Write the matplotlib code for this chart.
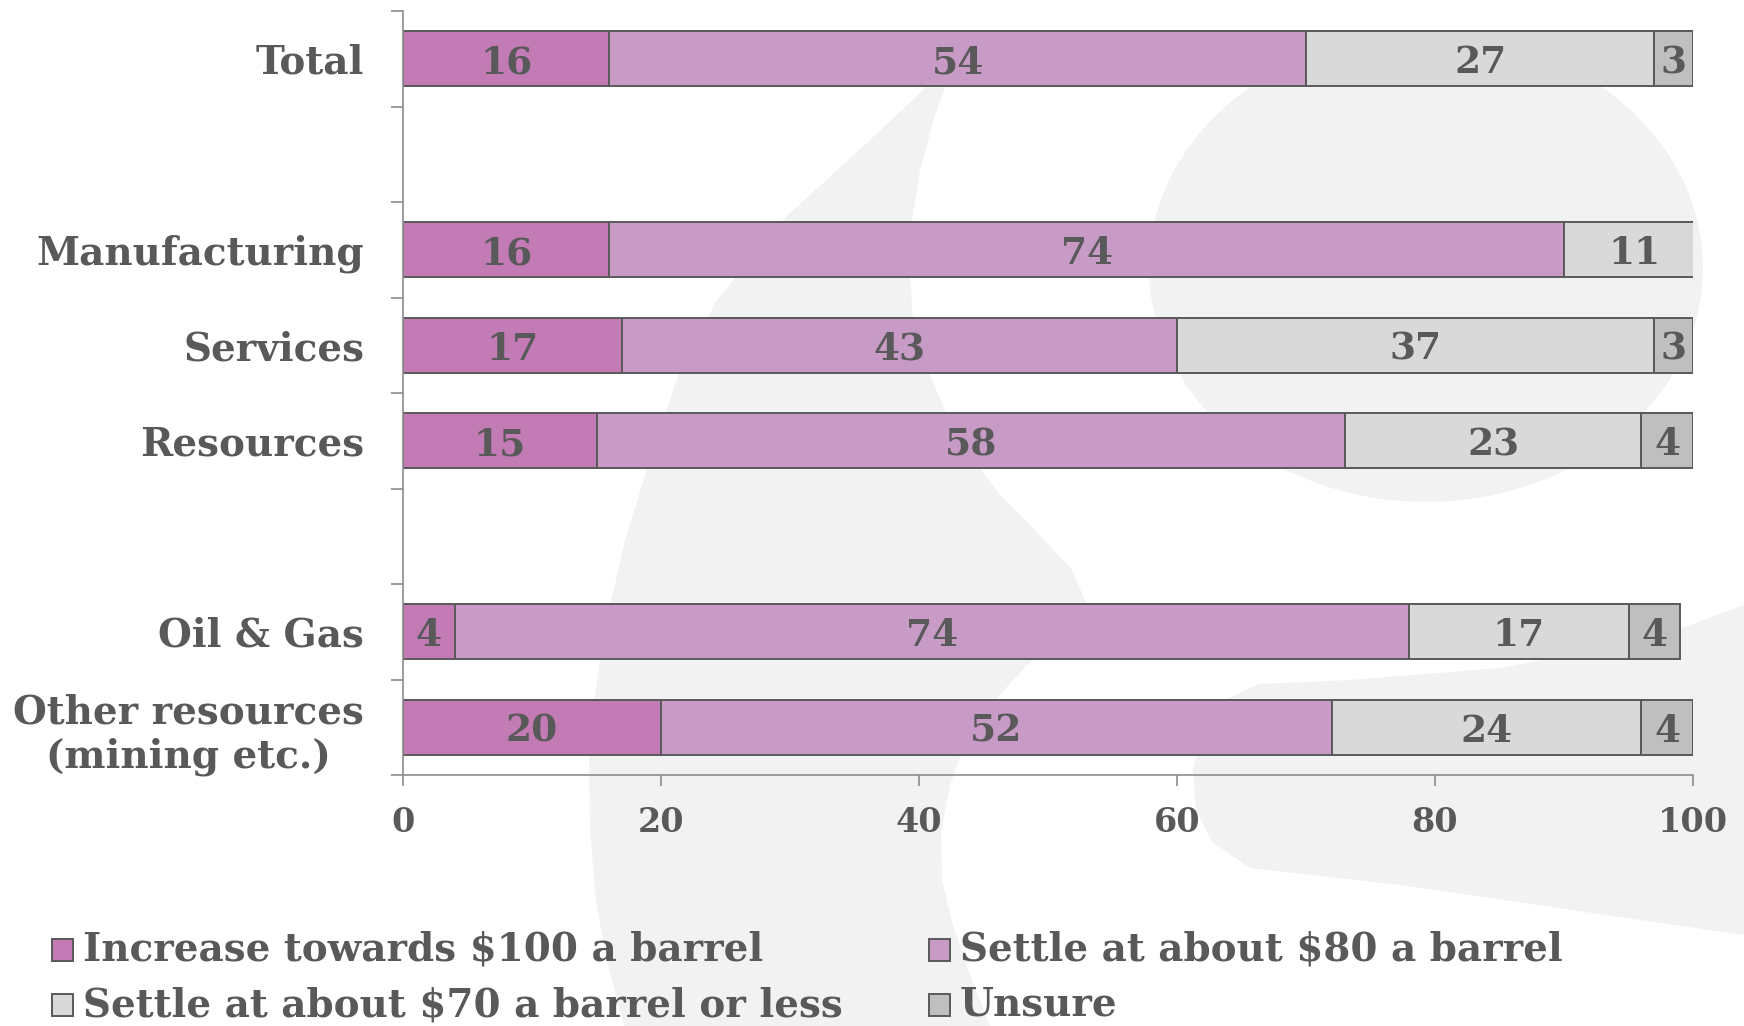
import matplotlib
matplotlib.use("Agg")
import matplotlib.pyplot as plt
from matplotlib.patches import Polygon, Ellipse, Rectangle
import numpy as np

# oil price expectations by sector (% of respondents)
categories = ["Total", "Manufacturing", "Services", "Resources", "Oil & Gas",
              "Other resources\n(mining etc.)"]
increase_100 = [16, 16, 17, 15, 4, 20]
settle_80 = [54, 74, 43, 58, 74, 52]
settle_70 = [27, 11, 37, 23, 17, 24]
unsure = [3, 0, 3, 4, 4, 4]
series_names = ["Increase towards $100 a barrel", "Settle at about $80 a barrel",
                "Settle at about $70 a barrel or less", "Unsure"]
xticks = [0, 20, 40, 60, 80, 100]

# row slots (gaps at 1 and 5 separate the groups)
slots = [0, 2, 3, 4, 6, 7]
colors = ["#C27BB5", "#C89BC6", "#D9D9D9", "#BFBFBF"]
edge = "#595959"
txt = "#595959"
axis_col = "#8C8C8C"
wm = "#F2F2F2"

plt.rcParams["font.family"] = ["DejaVu Serif"]
plt.rcParams["font.weight"] = "bold"

W, H = 1744, 1026
fig = plt.figure(figsize=(W / 100, H / 100), dpi=100)


def fpt(pts):
    # pixel coords (top-left origin) -> figure fraction
    return [(x / W, 1 - y / H) for x, y in pts]


# faint logo shapes in the background
swoosh = [(955, 60), (870, 140), (787, 216), (717, 300), (680, 370), (652, 453),
          (625, 540), (606, 624), (594, 700), (589, 763), (590, 830), (596, 902),
          (608, 965), (624, 1026), (990, 1026), (970, 975), (953, 925),
          (942, 880), (941, 832), (950, 785), (967, 740), (995, 700),
          (1026, 666), (1062, 638), (1090, 612), (1072, 570), (1035, 530),
          (1000, 495), (970, 455), (945, 410), (926, 366), (913, 320),
          (910, 275), (912, 220), (920, 170), (935, 115)]
lower_right = [(1259, 684), (1225, 700), (1203, 730), (1193, 770), (1196, 810),
               (1212, 842), (1250, 868), (1400, 885), (1744, 935), (1744, 605),
               (1650, 640), (1500, 668), (1350, 680)]
fig.add_artist(Polygon(fpt(swoosh), closed=True, transform=fig.transFigure,
                       facecolor=wm, edgecolor="none", zorder=-2))
fig.add_artist(Polygon(fpt(lower_right), closed=True, transform=fig.transFigure,
                       facecolor=wm, edgecolor="none", zorder=-2))
fig.add_artist(Ellipse((1426 / W, 1 - 268 / H), 554 / W, 468 / H,
                       transform=fig.transFigure, facecolor=wm,
                       edgecolor="none", zorder=-2))

ax = fig.add_axes([403 / W, 1 - 775 / H, 1290 / W, 764 / H])
ax.set_facecolor("none")

series = [increase_100, settle_80, settle_70, unsure]
left = np.zeros(len(categories))
for vals, col, name in zip(series, colors, series_names):
    vals = np.array(vals, dtype=float)
    ax.barh(slots, vals, left=left, height=0.58, color=col, edgecolor=edge,
            linewidth=1.4, label=name)
    for y, l, v in zip(slots, left, vals):
        if v > 0:
            ax.text(l + v / 2, y + 0.04, f"{v:.0f}", ha="center", va="center",
                    fontsize=27, fontweight="bold", color=txt)
    left += vals

ax.set_xlim(0, 100)
ax.set_ylim(7.5, -0.5)
ax.set_xticks(xticks)
ax.set_yticks(slots, labels=categories)
ax.set_yticks(np.arange(-0.5, 8, 1), minor=True)
ax.tick_params(axis="y", which="major", length=0, pad=28, labelsize=28,
               labelcolor=txt)
ax.tick_params(axis="y", which="minor", length=8.5, width=1.2, color=axis_col)
ax.tick_params(axis="x", length=8, width=1.2, color=axis_col, pad=14,
               labelsize=24, labelcolor=txt)
for lab in ax.get_yticklabels():
    lab.set_multialignment("center")
for s in ["top", "right"]:
    ax.spines[s].set_visible(False)
for s in ["left", "bottom"]:
    ax.spines[s].set_color(axis_col)
    ax.spines[s].set_linewidth(1.2)

# legend, two columns
leg_x = [52, 929]
leg_y = [950, 1005]
order = [(0, 0, 0), (1, 1, 0), (2, 0, 1), (3, 1, 1)]
for i, c, r in order:
    x0, y0 = leg_x[c], leg_y[r]
    fig.add_artist(Rectangle((x0 / W, 1 - (y0 + 11) / H), 21 / W, 22 / H,
                             transform=fig.transFigure, facecolor=colors[i],
                             edgecolor=edge, linewidth=1.4))
    fig.text((x0 + 31) / W, 1 - y0 / H, series_names[i], ha="left",
             va="center", fontsize=28, fontweight="bold", color=txt)

fig.savefig("out.png", dpi=100)
